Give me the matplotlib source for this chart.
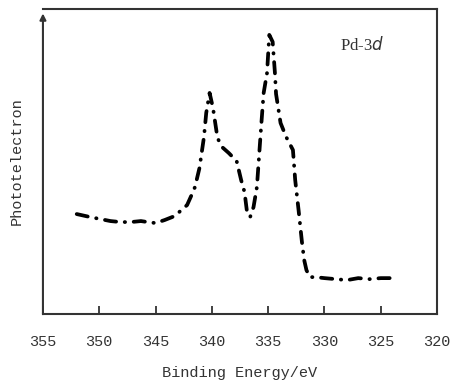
import matplotlib
matplotlib.use("Agg")
import matplotlib.pyplot as plt
import numpy as np

#%% data (binding energy in eV, intensity in arb. units)
energy = [352.0, 350.8, 349.9, 349.0, 348.1, 347.2, 346.3, 345.7, 345.0, 344.2,
          343.3, 342.7, 342.2, 341.8, 341.5, 341.1, 340.7, 340.5, 340.2, 339.9,
          339.5, 339.1, 338.5, 337.8, 337.4, 337.1, 336.9, 336.6, 336.3, 336.0,
          335.8, 335.6, 335.4, 335.1, 334.9, 334.6, 334.4, 334.3, 333.9, 333.4,
          332.8, 332.6, 332.3, 332.0, 331.8, 331.6, 331.3, 330.8, 330.0, 329.0,
          328.0, 327.0, 326.0, 325.0, 324.2, 323.6]
intensity = [100, 97, 95, 93, 92, 92, 93, 92, 91, 94,
             98, 104, 109, 119, 127, 146, 177, 201, 221, 206,
             176, 167, 161, 153, 134, 122, 104, 97, 107, 127,
             159, 191, 221, 241, 279, 272, 241, 220, 191, 177,
             164, 134, 104, 72, 54, 44, 37, 37, 36, 35,
             34, 36, 35, 36, 36, 37]
x_ticks = [355, 350, 345, 340, 335, 330, 325, 320]
label_x = "Binding Energy/eV"
label_y = "Phototelectron"
tag = "Pd-3$\\it{d}$"

#%%
plt.rcParams['font.family'] = ['Liberation Mono', 'DejaVu Sans']

fig = plt.figure(figsize=(4.52, 3.85), dpi=100)
ax = fig.add_axes([0.095, 0.184, 0.872, 0.793])

ax.plot(energy, intensity, color='black', linewidth=2.7,
        linestyle=(0, (3.0, 2.3, 0.1, 2.3)), dash_capstyle='round',
        solid_capstyle='round')

ax.set_xlim(355, 320)
ax.set_ylim(0, 305)
ax.set_xticks(x_ticks)
ax.set_yticks([])
ax.tick_params(axis='x', direction='in', length=6, width=1.3, color='#333333',
               labelsize=11, pad=15, labelcolor='#333333')
for s in ax.spines.values():
    s.set_color('#333333')
    s.set_linewidth(1.5)
ax.spines['left'].set_visible(False)

# y axis drawn as an arrow
ax.annotate('', xy=(0, 0.985), xytext=(0, 0), xycoords='axes fraction',
            arrowprops=dict(arrowstyle='-|>', color='#333333', lw=1.5,
                            mutation_scale=9, shrinkA=0, shrinkB=0))

ax.set_xlabel(label_x, fontsize=11, labelpad=12, color='#333333')
ax.set_ylabel(label_y, fontsize=11, labelpad=14, color='#333333')
ax.text(0.754, 0.88, tag, transform=ax.transAxes, fontsize=12,
        family='Liberation Serif', color='#333333', va='center')

fig.savefig("out.png", dpi=100)
